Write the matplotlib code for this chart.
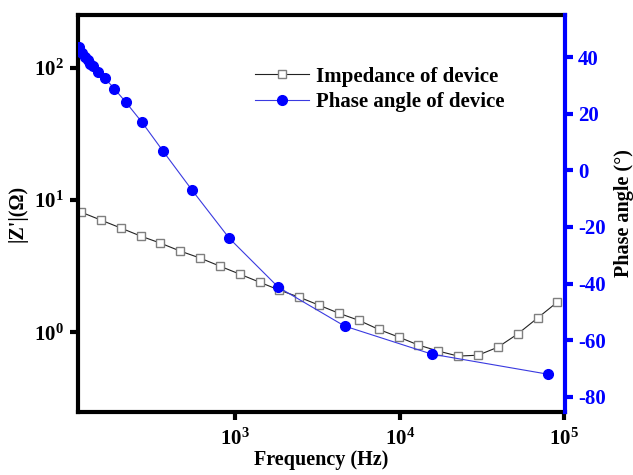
import numpy as np
import matplotlib.pyplot as plt
from matplotlib.ticker import FixedLocator, FuncFormatter, NullLocator

plt.rcParams['font.family'] = 'Liberation Serif'
plt.rcParams['font.weight'] = 'bold'
plt.rcParams['mathtext.fontset'] = 'custom'
plt.rcParams['mathtext.rm'] = 'Liberation Serif:bold'
plt.rcParams['mathtext.bf'] = 'Liberation Serif:bold'
plt.rcParams['axes.unicode_minus'] = False

# impedance sweep
freq_z = [115, 152, 201, 265, 350, 462, 610, 806, 1065, 1406, 1857, 2453,
          3240, 4279, 5652, 7465, 9860, 13020, 17200, 22720, 30000, 39630,
          52340, 69130, 91300]
z_mag = [8.1, 7.05, 6.14, 5.34, 4.72, 4.11, 3.64, 3.16, 2.75, 2.39, 2.08,
         1.84, 1.60, 1.39, 1.23, 1.05, 0.92, 0.80, 0.72, 0.66, 0.67, 0.77,
         0.97, 1.28, 1.69]

# phase sweep
freq_p = [112, 117, 122, 127, 131, 136, 146, 161, 183, 216, 271, 364, 547,
          919, 1828, 4624, 15670, 79800]
phase = [43.4, 41.3, 39.9, 38.8, 37.7, 36.7, 34.9, 32.5, 28.9, 24.0, 16.9,
         6.7, -7.1, -24.0, -41.3, -55.0, -64.9, -72.0]

fig = plt.figure(figsize=(6.33, 4.75), dpi=100)
ax = fig.add_axes([0.123, 0.133, 0.770, 0.835])
ax2 = ax.twinx()

l1, = ax.plot(freq_z, z_mag, color='#222222', lw=0.8, marker='s', ms=6,
              mfc='white', mec='#7f7f7f', mew=1.0, label='Impedance of device')
l2, = ax2.plot(freq_p, phase, color='#3a3ae0', lw=0.8, marker='o', ms=7,
               mfc='#0000ff', mec='#0000ff', label='Phase angle of device')

ax.set_xscale('log')
ax.set_yscale('log')
ax.set_xlim(110, 1.02e5)
ax.set_ylim(0.25, 250)
ax2.set_ylim(-85.3, 54.8)

fmt = FuncFormatter(lambda v, p: r'$\mathbf{10^{%d}}$' % round(np.log10(v)))
ax.xaxis.set_major_locator(FixedLocator([1e3, 1e4, 1e5]))
ax.xaxis.set_major_formatter(fmt)
ax.xaxis.set_minor_locator(NullLocator())
ax.yaxis.set_major_locator(FixedLocator([1e0, 1e1, 1e2]))
ax.yaxis.set_major_formatter(fmt)
ax.yaxis.set_minor_locator(NullLocator())
ax2.set_yticks([-80, -60, -40, -20, 0, 20, 40])
ax2.yaxis.set_minor_locator(NullLocator())

for s in ['left', 'top', 'bottom']:
    ax.spines[s].set_linewidth(3)
    ax.spines[s].set_color('black')
    ax2.spines[s].set_visible(False)
ax.spines['right'].set_visible(False)
ax2.spines['right'].set_linewidth(3)
ax2.spines['right'].set_color('#0000ff')

ax.tick_params(axis='both', which='major', direction='out', length=6, width=3,
               labelsize=15, pad=4)
ax.tick_params(axis='x', top=False, pad=6)
ax2.tick_params(axis='y', which='major', direction='out', length=6, width=3,
                color='#0000ff', labelcolor='#0000ff', labelsize=15, pad=3)

ax.set_xlabel('Frequency (Hz)', fontsize=14.5, fontweight='bold', labelpad=0)
ax.set_ylabel("|Z'|(Ω)", fontsize=14.5, fontweight='bold', labelpad=5)
ax2.set_ylabel('Phase angle (°)', fontsize=14.5, fontweight='bold', labelpad=6)

leg = ax2.legend(handles=[l1, l2], loc='upper left',
                 bbox_to_anchor=(0.363, 0.87), frameon=False, fontsize=15,
                 handlelength=2.6, handletextpad=0.35, labelspacing=0.25,
                 borderpad=0, borderaxespad=0)

fig.savefig('out.png', dpi=100)
